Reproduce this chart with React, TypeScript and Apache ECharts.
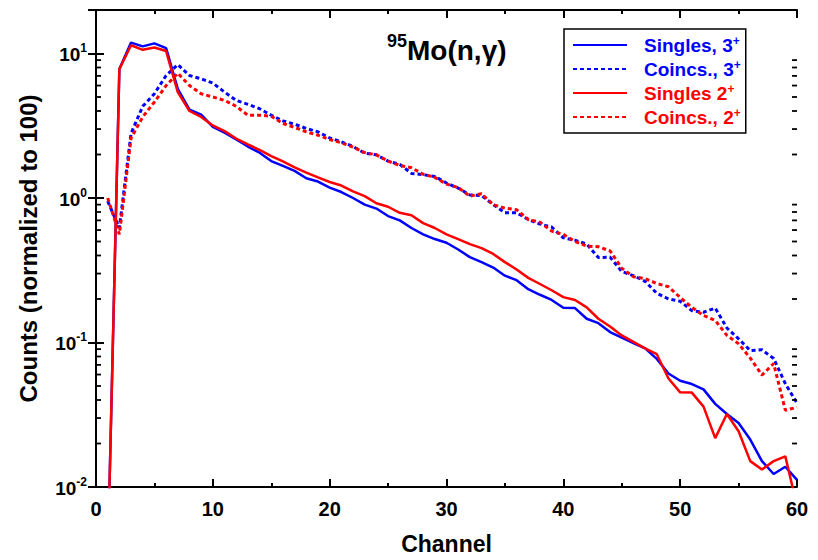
import React, { useEffect, useRef } from 'react';
import * as echarts from 'echarts';

// Channel numbers (x) and normalized counts for each spectrum
const channels = [
  1, 2, 3, 4, 5, 6, 7, 8, 9, 10,
  11, 12, 13, 14, 15, 16, 17, 18, 19, 20,
  21, 22, 23, 24, 25, 26, 27, 28, 29, 30,
  31, 32, 33, 34, 35, 36, 37, 38, 39, 40,
  41, 42, 43, 44, 45, 46, 47, 48, 49, 50,
  51, 52, 53, 54, 55, 56, 57, 58, 59, 60,
];

const singles3 = [
  0.003, 7.8, 11.9, 11.2, 11.75, 10.9, 5.7, 4.09, 3.78, 3.11,
  2.83, 2.54, 2.27, 2.06, 1.8, 1.67, 1.54, 1.37, 1.3, 1.18,
  1.1, 1.0, 0.9, 0.845, 0.75, 0.7, 0.62, 0.56, 0.52, 0.49,
  0.44, 0.39, 0.36, 0.33, 0.29, 0.27, 0.234, 0.214, 0.197, 0.174,
  0.173, 0.146, 0.136, 0.118, 0.108, 0.099, 0.091, 0.077, 0.061, 0.0544,
  0.0516, 0.0474, 0.0376, 0.032, 0.0277, 0.0213, 0.0151, 0.0123, 0.0138, 0.0112,
];

const coincs3 = [
  0.95, 0.62, 2.8, 4.31, 5.27, 7.04, 8.38, 7.04, 6.68, 6.24,
  5.41, 4.74, 4.45, 4.15, 3.74, 3.42, 3.24, 3.03, 2.87, 2.6,
  2.45, 2.27, 2.04, 1.99, 1.8, 1.71, 1.48, 1.45, 1.41, 1.27,
  1.17, 1.05, 1.04, 0.9, 0.79, 0.79, 0.71, 0.66, 0.63, 0.53,
  0.51, 0.48, 0.387, 0.39, 0.31, 0.29, 0.265, 0.219, 0.2, 0.193,
  0.166, 0.162, 0.173, 0.126, 0.106, 0.088, 0.089, 0.0775, 0.052, 0.038,
];

const singles2 = [
  0.003, 7.8, 11.4, 10.6, 11.0, 10.4, 5.4, 4.0, 3.64, 3.18,
  2.9, 2.58, 2.35, 2.15, 1.95, 1.79, 1.63, 1.5, 1.39, 1.29,
  1.22, 1.11, 1.03, 0.92, 0.87, 0.79, 0.76, 0.67, 0.62, 0.56,
  0.52, 0.48, 0.45, 0.41, 0.36, 0.32, 0.28, 0.254, 0.23, 0.206,
  0.197, 0.175, 0.146, 0.129, 0.112, 0.101, 0.091, 0.083, 0.0564, 0.0452,
  0.045, 0.036, 0.0218, 0.032, 0.0243, 0.0151, 0.0132, 0.0151, 0.0163, 0.0074,
];

const coincs2 = [
  1.0, 0.56, 2.6, 3.64, 4.62, 6.0, 7.3, 6.0, 5.27, 5.0,
  4.74, 4.31, 3.74, 3.74, 3.68, 3.28, 3.08, 2.87, 2.72, 2.54,
  2.41, 2.25, 2.06, 1.99, 1.8, 1.68, 1.62, 1.46, 1.39, 1.25,
  1.18, 1.03, 1.07, 0.9, 0.85, 0.83, 0.71, 0.68, 0.59, 0.56,
  0.5, 0.465, 0.46, 0.43, 0.327, 0.285, 0.277, 0.256, 0.243, 0.205,
  0.175, 0.154, 0.142, 0.112, 0.098, 0.078, 0.0595, 0.0715, 0.034, 0.0356,
];

// Log-axis minor tick positions (2..9 within each decade)
const minorTickValues = [
  0.02, 0.03, 0.04, 0.05, 0.06, 0.07, 0.08, 0.09,
  0.2, 0.3, 0.4, 0.5, 0.6, 0.7, 0.8, 0.9,
  2, 3, 4, 5, 6, 7, 8, 9,
];

const seriesNames = ['Singles, 3+', 'Coincs., 3+', 'Singles 2+', 'Coincs., 2+'];
const legendLabels: Record<string, string> = {
  'Singles, 3+': '{tb|Singles, 3}{sb|+}',
  'Coincs., 3+': '{tb|Coincs., 3}{sb|+}',
  'Singles 2+': '{tr|Singles 2}{sr|+}',
  'Coincs., 2+': '{tr|Coincs., 2}{sr|+}',
};

const FONT = '"Liberation Sans", Arial, Helvetica, sans-serif';
const BLUE = '#0000ff';
const RED = '#ff0000';
const CLEAR = 'rgba(0,0,0,0)';

const X_MIN = 0;
const X_MAX = 60;
const Y_MIN = 0.01;
const Y_MAX = 20;

function pairs(ys: number[]) {
  return channels.map((c, i) => [c, ys[i]]);
}

function decadeLabel(v: number) {
  const e = Math.log10(v);
  const r = Math.round(e);
  if (Math.abs(e - r) > 1e-6) return '';
  return `{b|10}{s|${r}}`;
}

export default function App() {
  const ref = useRef<HTMLDivElement>(null);

  useEffect(() => {
    document.body.style.margin = '0';
    const chart = echarts.init(ref.current!, null, { renderer: 'svg' });

    const axisLine = { show: true, lineStyle: { color: '#000', width: 2 } };
    const tickStyle = { color: '#000', width: 2 };

    const lineSeries = (name: string, ys: number[], color: string, dashed: boolean) => ({
      name,
      type: 'line',
      data: pairs(ys),
      showSymbol: false,
      symbol: 'none',
      lineStyle: {
        color,
        width: dashed ? 3 : 2.5,
        type: dashed ? [4, 3] : 'solid',
        cap: 'butt',
      },
      itemStyle: { color },
      clip: true,
    });

    // Short inward ticks at 2..9 x 10^n on the left and right frame edges
    const minorTicks = {
      type: 'custom',
      silent: true,
      clip: false,
      z: 5,
      data: minorTickValues.map((v) => [X_MAX, v]),
      renderItem: (_params: any, api: any) => {
        const v = api.value(1);
        const r = api.coord([X_MAX, v]);
        const l = api.coord([X_MIN, v]);
        return {
          type: 'group',
          children: [
            { type: 'rect', shape: { x: l[0], y: l[1] - 0.9, width: 5, height: 1.8 }, style: { fill: '#000' } },
            { type: 'rect', shape: { x: r[0] - 5, y: r[1] - 0.9, width: 5, height: 1.8 }, style: { fill: '#000' } },
          ],
        };
      },
    };

    chart.setOption({
      animation: false,
      backgroundColor: '#fff',
      textStyle: { fontFamily: FONT },
      grid: { left: 96, right: 21, top: 10, bottom: 69 },
      title: {
        text: '{s|95}{m|Mo(n,γ)}',
        left: 387,
        top: 32,
        padding: 0,
        textStyle: {
          rich: {
            s: { fontSize: 18, fontWeight: 'bold', fontFamily: FONT, color: '#000', verticalAlign: 'top', lineHeight: 32 },
            m: { fontSize: 28, fontWeight: 'bold', fontFamily: FONT, color: '#000', verticalAlign: 'bottom', lineHeight: 32 },
          },
        },
      },
      legend: {
        orient: 'vertical',
        left: 564,
        top: 29,
        data: seriesNames,
        itemWidth: 54,
        itemHeight: 14,
        itemGap: 4,
        padding: [6, 5, 6, 8],
        borderColor: '#000',
        borderWidth: 1.5,
        backgroundColor: '#fff',
        selectedMode: false,
        itemStyle: { color: CLEAR, borderColor: CLEAR, borderWidth: 0 },
        formatter: (name: string) => legendLabels[name],
        textStyle: {
          fontFamily: FONT,
          rich: {
            tb: { color: BLUE, fontSize: 19, fontWeight: 'bold', fontFamily: FONT, padding: [0, 0, 0, 12], lineHeight: 20, verticalAlign: 'bottom' },
            sb: { color: BLUE, fontSize: 12, fontWeight: 'bold', fontFamily: FONT, lineHeight: 20, verticalAlign: 'top' },
            tr: { color: RED, fontSize: 19, fontWeight: 'bold', fontFamily: FONT, padding: [0, 0, 0, 12], lineHeight: 20, verticalAlign: 'bottom' },
            sr: { color: RED, fontSize: 12, fontWeight: 'bold', fontFamily: FONT, lineHeight: 20, verticalAlign: 'top' },
          },
        },
      },
      xAxis: [
        {
          type: 'value',
          min: X_MIN,
          max: X_MAX,
          interval: 10,
          position: 'bottom',
          name: 'Channel',
          nameLocation: 'middle',
          nameGap: 45,
          nameTextStyle: { fontSize: 23, fontWeight: 'bold', color: '#000', fontFamily: FONT },
          axisLine,
          axisTick: { show: true, inside: true, length: 8, lineStyle: tickStyle },
          minorTick: { show: true, splitNumber: 2, length: 4, lineStyle: tickStyle },
          axisLabel: { fontSize: 20, fontWeight: 'bold', color: '#000', margin: 12, fontFamily: FONT },
          splitLine: { show: false },
        },
        {
          type: 'value',
          min: X_MIN,
          max: X_MAX,
          interval: 10,
          position: 'top',
          axisLine,
          axisTick: { show: true, inside: true, length: 8, lineStyle: tickStyle },
          minorTick: { show: true, splitNumber: 2, length: 4, lineStyle: tickStyle },
          axisLabel: { show: false },
          splitLine: { show: false },
        },
      ],
      yAxis: [
        {
          type: 'log',
          logBase: 10,
          min: Y_MIN,
          max: Y_MAX,
          position: 'left',
          name: 'Counts (normalized to 100)',
          nameLocation: 'middle',
          nameGap: 56,
          nameRotate: 90,
          nameTextStyle: { fontSize: 24, fontWeight: 'bold', color: '#000', fontFamily: FONT },
          axisLine,
          axisTick: { show: true, inside: true, length: 8, lineStyle: tickStyle },
          minorTick: { show: false },
          axisLabel: {
            margin: 9,
            formatter: decadeLabel,
            rich: {
              b: { fontSize: 19, fontWeight: 'bold', color: '#000', fontFamily: FONT, verticalAlign: 'bottom', lineHeight: 22 },
              s: { fontSize: 12, fontWeight: 'bold', color: '#000', fontFamily: FONT, verticalAlign: 'top', lineHeight: 22 },
            },
          },
          splitLine: { show: false },
        },
        {
          type: 'log',
          logBase: 10,
          min: Y_MIN,
          max: Y_MAX,
          position: 'right',
          axisLine,
          axisTick: { show: true, inside: true, length: 8, lineStyle: tickStyle },
          minorTick: { show: false },
          axisLabel: { show: false },
          splitLine: { show: false },
        },
      ],
      series: [
        lineSeries(seriesNames[0], singles3, BLUE, false),
        lineSeries(seriesNames[1], coincs3, BLUE, true),
        lineSeries(seriesNames[2], singles2, RED, false),
        lineSeries(seriesNames[3], coincs2, RED, true),
        minorTicks,
      ],
    });

    return () => chart.dispose();
  }, []);

  return <div ref={ref} style={{ width: 818, height: 560 }} />;
}
